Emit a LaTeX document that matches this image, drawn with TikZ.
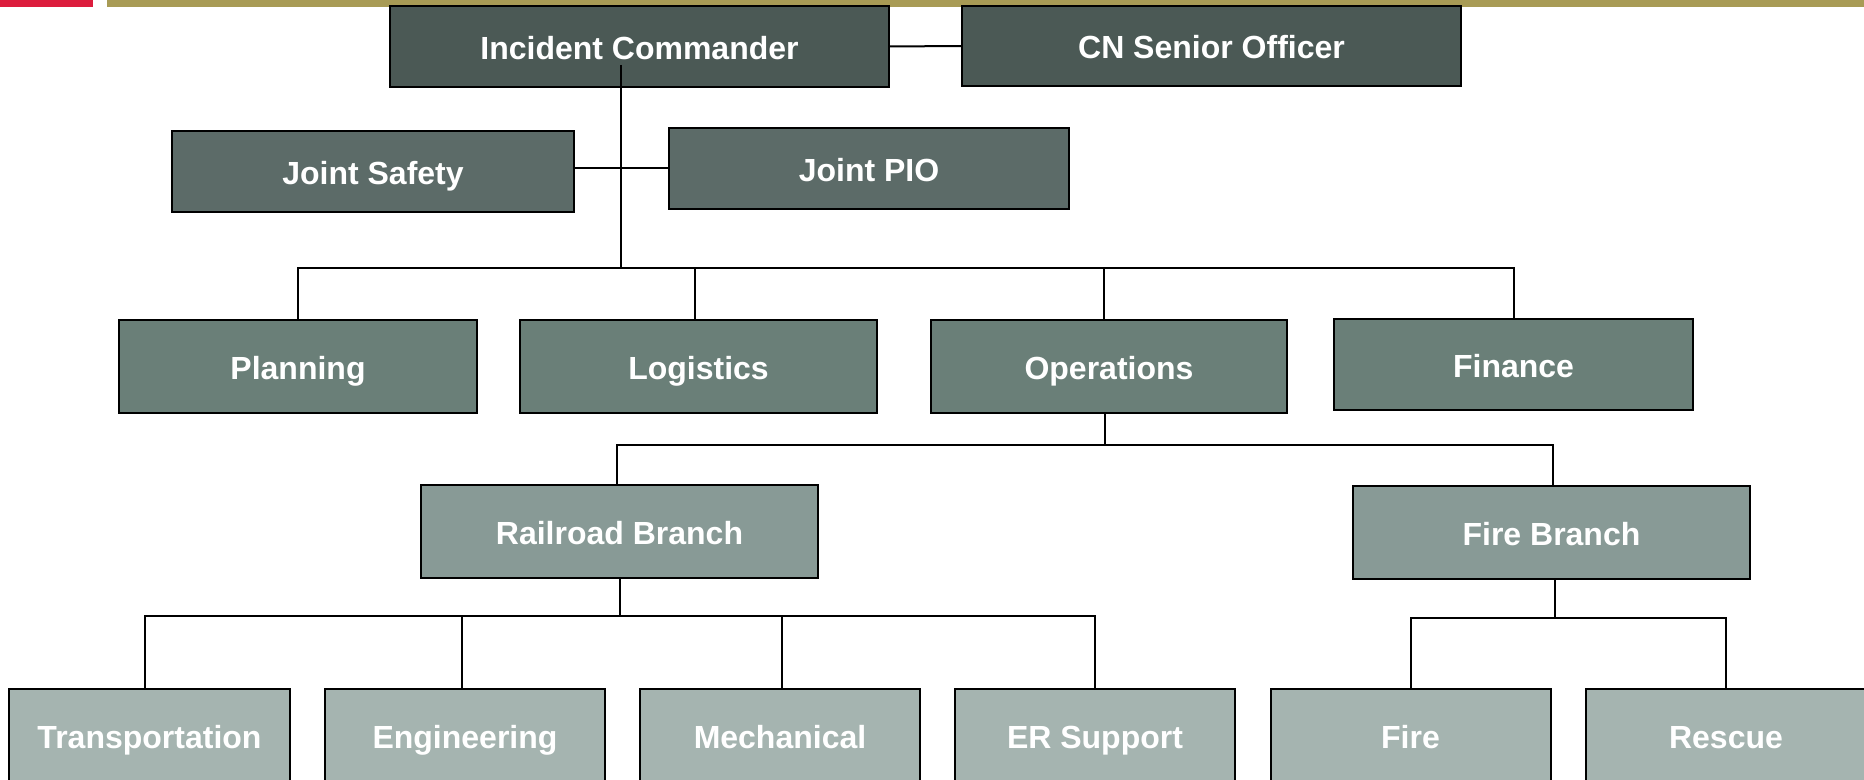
\documentclass[tikz,border=0pt]{standalone}
\usepackage{fontspec}
\setmainfont{Liberation Sans}
\definecolor{topred}{HTML}{DC1C3C}
\definecolor{topgold}{HTML}{A89B55}
\definecolor{lvA}{HTML}{4B5955}
\definecolor{lvB}{HTML}{5C6B68}
\definecolor{lvC}{HTML}{6A7F78}
\definecolor{lvD}{HTML}{889A96}
\definecolor{lvE}{HTML}{A5B4B0}
\tikzset{
  box/.style={draw=black, line width=1pt, text=white, inner sep=0pt, outer sep=0pt,
    text height=13pt, text depth=0pt,
    font=\bfseries\fontsize{16}{19}\selectfont},
  conn/.style={draw=black, line width=1pt},
}
\begin{document}
\begin{tikzpicture}[x=0.5pt,y=-0.5pt]
\useasboundingbox (0,0) rectangle (1864,780);
\fill[white] (0,0) rectangle (1864,780);
% top bars
\fill[topred] (0,0) rectangle (93,7);
\fill[topgold] (107,0) rectangle (1864,7);
% level 1
\node[box, fill=lvA, minimum width=249.5pt, minimum height=40.5pt] (ic) at (639.5,46.5) {Incident Commander};
\node[box, fill=lvA, minimum width=249.5pt, minimum height=40pt] (cn) at (1211.5,46) {CN Senior Officer};
% level 2
\node[box, fill=lvB, minimum width=201pt, minimum height=40.5pt] (js) at (373,171.5) {Joint Safety};
\node[box, fill=lvB, minimum width=200pt, minimum height=40.5pt] (pio) at (869,168.5) {Joint PIO};
% level 3
\node[box, fill=lvC, minimum width=179pt, minimum height=46.5pt] (pl) at (298,366.5) {Planning};
\node[box, fill=lvC, minimum width=178.5pt, minimum height=46.5pt] (lo) at (698.5,366.5) {Logistics};
\node[box, fill=lvC, minimum width=178pt, minimum height=46.5pt] (op) at (1109,366.5) {Operations};
\node[box, fill=lvC, minimum width=179.5pt, minimum height=45.5pt] (fi) at (1513.5,364.5) {Finance};
% level 4
\node[box, fill=lvD, minimum width=198.5pt, minimum height=46.5pt] (rb) at (619.5,531.5) {Railroad Branch};
\node[box, fill=lvD, minimum width=198.5pt, minimum height=46.5pt] (fb) at (1551.5,532.5) {Fire Branch};
% level 5
\node[box, fill=lvE, minimum width=140.5pt, minimum height=46.5pt] (tr) at (149.5,735.5) {Transportation};
\node[box, fill=lvE, minimum width=140pt, minimum height=46.5pt] (en) at (465,735.5) {Engineering};
\node[box, fill=lvE, minimum width=140pt, minimum height=46.5pt] (me) at (780,735.5) {Mechanical};
\node[box, fill=lvE, minimum width=140pt, minimum height=46.5pt] (er) at (1095,735.5) {ER Support};
\node[box, fill=lvE, minimum width=140pt, minimum height=46.5pt] (fr) at (1410.5,735.5) {Fire};
\node[box, fill=lvE, minimum width=140pt, minimum height=46.5pt] (rs) at (1726,735.5) {Rescue};
% connectors
\coordinate (t1) at (621,65);
\coordinate (b1) at (621,268);
\coordinate (b2) at (0,445);
\coordinate (b3) at (620,616);
\coordinate (b4) at (0,618);
\draw[conn] (ic.east) -- (cn.west);
\draw[conn] (t1) -- (b1);
\draw[conn] (js.east |- pio.west) -- (pio.west);
\draw[conn] (pl.north) -- (pl.north |- b1) -- (fi.north |- b1) -- (fi.north);
\draw[conn] ([xshift=-1.75pt]lo.north) -- ([xshift=-1.75pt]lo.north |- b1);
\draw[conn] ([xshift=-2.5pt]op.north) -- ([xshift=-2.5pt]op.north |- b1);
\draw[conn] ([xshift=-2pt]op.south) -- ([xshift=-2pt]op.south |- b2);
\draw[conn] ([xshift=-1.25pt]rb.north) -- ([xshift=-1.25pt]rb.north |- b2) -- ([xshift=0.75pt]fb.north |- b2) -- ([xshift=0.75pt]fb.north);
\draw[conn] (rb.south -| b3) -- (b3);
\draw[conn] ([xshift=-2.25pt]tr.north) -- ([xshift=-2.25pt]tr.north |- b3) -- (er.north |- b3) -- (er.north);
\draw[conn] ([xshift=-1.5pt]en.north) -- ([xshift=-1.5pt]en.north |- b3);
\draw[conn] ([xshift=1pt]me.north) -- ([xshift=1pt]me.north |- b3);
\draw[conn] ([xshift=1.75pt]fb.south) -- ([xshift=1.75pt]fb.south |- b4);
\draw[conn] (fr.north) -- (fr.north |- b4) -- (rs.north |- b4) -- (rs.north);
\end{tikzpicture}
\end{document}
